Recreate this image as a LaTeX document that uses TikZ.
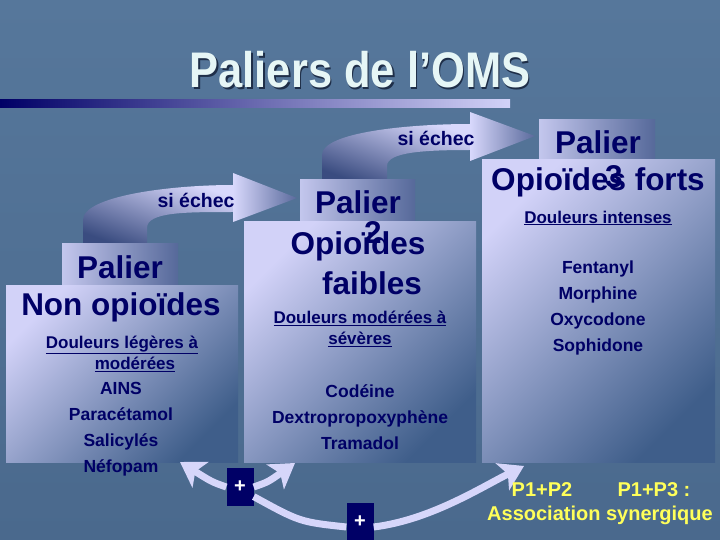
\documentclass[tikz,border=0pt]{standalone}
\usepackage{fontspec}
\setmainfont{Liberation Sans}
\newfontfamily\titlefont[FakeStretch=0.87]{Liberation Sans Bold}
\usetikzlibrary{arrows.meta}

\definecolor{bgtop}{HTML}{56779B}
\definecolor{bgbot}{HTML}{4A698D}
\definecolor{txtblue}{HTML}{000066}
\definecolor{boxlight}{HTML}{D2D2F8}
\definecolor{boxdark}{HTML}{3F5E8A}
\definecolor{tabdark}{HTML}{56699A}
\definecolor{ribdark}{HTML}{3A4C80}
\definecolor{riblight}{HTML}{D8D8FC}
\definecolor{ribtip}{HTML}{5A6A9C}
\definecolor{arrowc}{HTML}{D6D6FA}
\definecolor{titlec}{HTML}{E6F6F6}
\definecolor{shadowc}{HTML}{1E2E48}
\definecolor{yellowc}{HTML}{FFFF5A}

\tikzset{
  box/.style={draw=none, inner sep=0pt, shading=axis, top color=boxlight, bottom color=boxdark, shading angle=45},
  tab/.style={draw=none, inner sep=0pt, shading=axis, left color=boxlight!90!boxdark, right color=tabdark},
  ribbon/.style={top color=riblight, bottom color=ribdark, shading angle=-20},
  ribhead/.style={left color=riblight, right color=ribtip},
  big/.style={text=txtblue, font=\bfseries\fontsize{31.5}{34}\selectfont, inner sep=0pt},
  pain/.style={text=txtblue, font=\bfseries\fontsize{17}{21}\selectfont, align=center, inner sep=0pt},
  drugs/.style={text=txtblue, font=\bfseries\fontsize{17.5}{26}\selectfont, align=center, inner sep=0pt},
  fail/.style={text=txtblue, font=\bfseries\fontsize{19.5}{21}\selectfont, inner sep=0pt},
  plusbox/.style={fill=txtblue, text=white, font=\bfseries\fontsize{20}{20}\selectfont, minimum width=27pt, minimum height=38pt, inner sep=0pt},
  link/.style={draw=arrowc, line width=7pt, -{Stealth[length=24pt,width=30pt,inset=6pt]}},
  linkline/.style={draw=arrowc, line width=7pt},
  assoc/.style={text=yellowc, font=\bfseries\fontsize{20}{24}\selectfont, inner sep=0pt}
}

\begin{document}
\begin{tikzpicture}[x=1pt,y=-1pt]
  \useasboundingbox (0,0) rectangle (720,540);
  \shade[top color=bgtop, bottom color=bgbot] (0,0) rectangle (720,540);

  % title and bar
  \node[text=shadowc, font=\titlefont\fontsize{50}{54}\selectfont] (titleshadow) at (361.5,71.5) {Paliers de l’OMS};
  \node[text=titlec, font=\titlefont\fontsize{50}{54}\selectfont] (title) at (360,70) {Paliers de l’OMS};
  \shade[left color=txtblue, middle color=txtblue!45!boxlight, right color=boxlight] (0,100) rectangle (510,108);

  % si echec ribbons
  \shade[ribbon] (83,245) -- (83,220) .. controls (83,196) and (170,185) .. (233,185) -- (234,185)
    -- (234,212) -- (233,212) .. controls (185,212) and (147,212) .. (147,228) -- (147,245) -- cycle;
  \shade[ribhead] (233,173) -- (297,198) -- (233,222) -- cycle;
  \shade[ribbon] (322,182) -- (322,155) .. controls (322,132) and (410,124) .. (470,124) -- (471,124)
    -- (471,150) -- (470,150) .. controls (425,150) and (387,152) .. (387,166) -- (387,182) -- cycle;
  \shade[ribhead] (470,112) -- (535,136) -- (470,161) -- cycle;
  \node[fail] (fail1) at (196,200) {si échec};
  \node[fail] (fail2) at (436,138) {si échec};

  % palier 1
  \node[tab, minimum width=116pt, minimum height=42pt] (p1tab) at (120,264) {};
  \node[box, minimum width=232pt, minimum height=177pt] (p1box) at (122,373.5) {};
  \node[big] (p1title) at (120,267) {Palier};
  \node[big] (p1name) at (121,307) {Non opioïdes};
  \node[pain] (p1pain) at (122,354) {\underline{Douleurs légères à}\\\hspace*{26pt}\underline{modérées}};
  \node[drugs] (p1drugs) at (121,429) {AINS\\Paracétamol\\Salicylés\\Néfopam};

  % palier 2
  \node[tab, minimum width=115pt, minimum height=42pt] (p2tab) at (357.5,201) {};
  \node[box, minimum width=232pt, minimum height=240pt] (p2box) at (360,342) {};
  \node[big] (p2title) at (358,202) {Palier};
  \node[big] (p2name) at (358,246) {Opioïdes};
  \node[big] (p2num) at (373,233) {2};
  \node[big] (p2name2) at (372,283) {faibles};
  \node[pain] (p2pain) at (360,329) {\underline{Douleurs modérées à}\\\underline{sévères}};
  \node[drugs] (p2drugs) at (360,417) {Codéine\\Dextropropoxyphène\\Tramadol};

  % palier 3
  \node[tab, minimum width=116pt, minimum height=41pt] (p3tab) at (597,140.5) {};
  \node[box, minimum width=233pt, minimum height=302pt] (p3box) at (598.5,311) {};
  \node[big] (p3title) at (598,142) {Palier};
  \node[big] (p3name) at (598,182) {Opioïdes forts};
  \node[big] (p3num) at (614,177) {3};
  \node[pain] (p3pain) at (598,218) {\underline{Douleurs intenses}};
  \node[drugs] (p3drugs) at (598,308) {Fentanyl\\Morphine\\Oxycodone\\Sophidone};

  % associations
  \node[plusbox] (plus1) at (240,487) {+};
  \node[plusbox] (plus2) at (360,522) {+};
  \coordinate (tipA) at (180,462);
  \coordinate (tipB) at (295,463);
  \coordinate (tipC) at (524,466);
  \draw[link] (plus1.west) .. controls (212,482) .. (tipA);
  \draw[link] (plus1.east) .. controls (268,482) .. (tipB);
  \draw[linkline] (plus1.-35) .. controls (300,522) .. (plus2.-160);
  \draw[link] (plus2.-20) .. controls (430,520) and (480,488) .. (tipC);
  \node[assoc] (p1p2) at (542,490) {P1+P2};
  \node[assoc] (p1p3) at (654,490) {P1+P3 :};
  \node[assoc] (synergy) at (600,515) {Association synergique};
\end{tikzpicture}
\end{document}
